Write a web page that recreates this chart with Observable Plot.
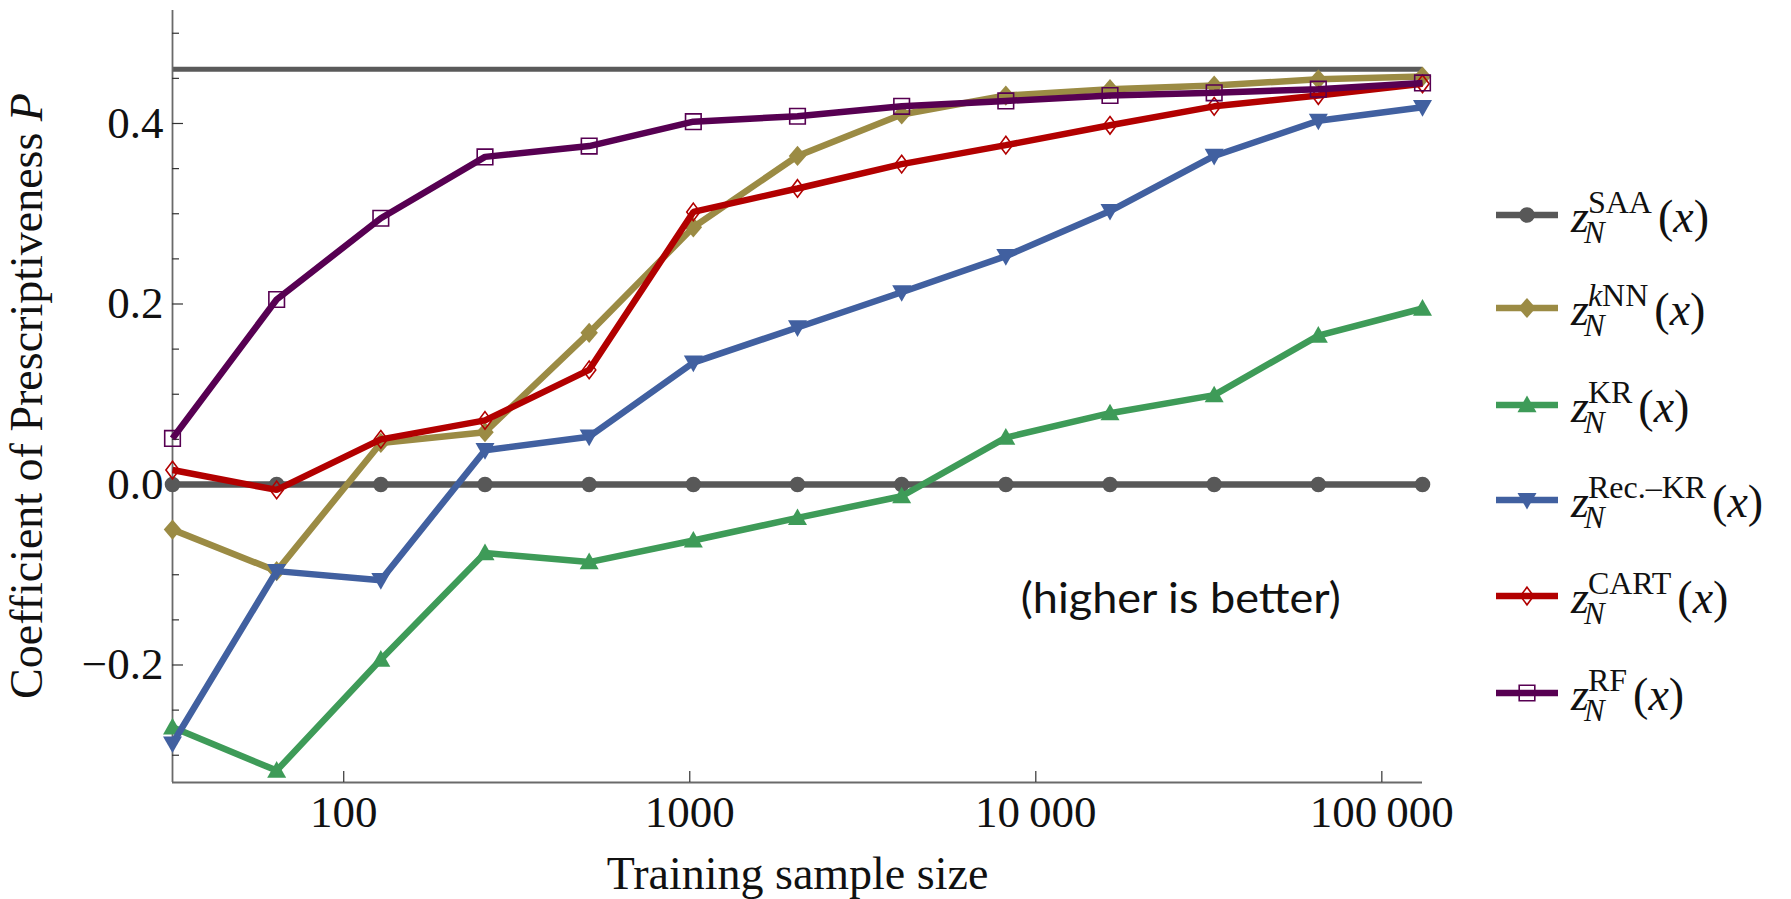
<!DOCTYPE html>
<html>
<head>
<meta charset="utf-8">
<script src="https://cdn.jsdelivr.net/npm/d3@7"></script>
<script src="https://cdn.jsdelivr.net/npm/@observablehq/plot@0.6"></script>
<style>
  html, body { margin: 0; padding: 0; background: #fff; }
  #wrap { width: 1791px; height: 899px; }
</style>
</head>
<body>
<div id="wrap"></div>
<script>
// ---------- data ----------
const sampleSizes = [32, 64, 128, 256, 512, 1024, 2048, 4096, 8192, 16384, 32768, 65536, 131072];
const saaValues   = [0, 0, 0, 0, 0, 0, 0, 0, 0, 0, 0, 0, 0];
const knnValues   = [-0.050, -0.096, 0.046, 0.058, 0.168, 0.285, 0.364, 0.410, 0.431, 0.438, 0.442, 0.449, 0.452];
const krValues    = [-0.269, -0.317, -0.194, -0.076, -0.086, -0.062, -0.037, -0.013, 0.052, 0.079, 0.099, 0.165, 0.195];
const recKrValues = [-0.287, -0.096, -0.106, 0.038, 0.053, 0.135, 0.174, 0.213, 0.253, 0.303, 0.364, 0.403, 0.418];
const cartValues  = [0.016, -0.006, 0.050, 0.071, 0.127, 0.302, 0.328, 0.355, 0.376, 0.398, 0.419, 0.431, 0.444];
const rfValues    = [0.051, 0.205, 0.295, 0.363, 0.375, 0.402, 0.408, 0.419, 0.425, 0.431, 0.434, 0.438, 0.445];
const referenceLevel = [0.46];

const seriesKeys   = ["SAA", "kNN", "KR", "RecKR", "CART", "RF"];
const seriesSup    = ["SAA", "kNN", "KR", "Rec.\u2013KR", "CART", "RF"];
const seriesColors = ["#585858", "#9b8b44", "#3e9b58", "#4160a0", "#b20000", "#570052"];
const seriesValues = [saaValues, knnValues, krValues, recKrValues, cartValues, rfValues];

const yMajorTicks = [-0.2, 0, 0.2, 0.4];
const yTickLabels = ["\u22120.2", "0.0", "0.2", "0.4"];
const yMinorTicks = [-0.3, -0.25, -0.15, -0.1, -0.05, 0.05, 0.1, 0.15, 0.25, 0.3, 0.35, 0.45, 0.5];
const xMajorTicks = [100, 1000, 10000, 100000];
const xTickLabels = ["100", "1000", "10\u2009000", "100\u2009000"];
const xLabel = ["Training sample size"];
const annotation = ["(higher is better)"];

// ---------- marker shapes ----------
const sym = fn => ({ draw(ctx, size) { const r = Math.sqrt(size / Math.PI); fn(ctx, r); } });
const circleSym = sym((c, r) => { c.moveTo(r, 0); c.arc(0, 0, r, 0, 2 * Math.PI); });
const diamondFill = sym((c, r) => { c.moveTo(0, -r * 1.1); c.lineTo(r * 0.95, 0); c.lineTo(0, r * 1.1); c.lineTo(-r * 0.95, 0); c.closePath(); });
const triUp = sym((c, r) => { c.moveTo(0, -r); c.lineTo(r * 1.0, r * 0.75); c.lineTo(-r * 1.0, r * 0.75); c.closePath(); });
const triDown = sym((c, r) => { c.moveTo(0, r); c.lineTo(r * 1.0, -r * 0.75); c.lineTo(-r * 1.0, -r * 0.75); c.closePath(); });
const diamondOpen = sym((c, r) => { c.moveTo(0, -r); c.lineTo(r * 0.75, 0); c.lineTo(0, r); c.lineTo(-r * 0.75, 0); c.closePath(); });
const squareOpen = sym((c, r) => { c.rect(-r, -r, 2 * r, 2 * r); });

const markerDefs = [
  { symbol: circleSym,   r: 7.8, fill: true },
  { symbol: diamondFill, r: 9.2, fill: true },
  { symbol: triUp,       r: 9.5, fill: true },
  { symbol: triDown,     r: 9.5, fill: true },
  { symbol: diamondOpen, r: 8.8, fill: false },
  { symbol: squareOpen,  r: 7.8, fill: false }
];

// long-format table built from the arrays
const table = seriesKeys.map((k, s) =>
  sampleSizes.map((n, i) => ({ series: k, n, p: seriesValues[s][i] })));

const yMin = -0.3302, yMax = 0.5252;
const xMin = 32, xMax = 131072;

const serif = "Liberation Serif";
const marks = [
  // reference level
  Plot.ruleY(referenceLevel, { y: d => d, x1: xMin, x2: xMax, stroke: "#5a5a5a", strokeWidth: 5 }),
  // axis lines
  Plot.ruleY([yMin], { y: d => d, x1: xMin, x2: xMax, stroke: "#6a6a6a", strokeWidth: 1.8 }),
  Plot.ruleX([xMin], { x: d => d, y1: yMin, y2: yMax, stroke: "#6a6a6a", strokeWidth: 1.8 }),
  // ticks (pointing inward)
  Plot.ruleY(yMajorTicks, { y: d => d, x1: xMin, x2: xMin, insetRight: -11, stroke: "#333", strokeWidth: 1.2 }),
  Plot.ruleY(yMinorTicks, { y: d => d, x1: xMin, x2: xMin, insetRight: -7, stroke: "#333", strokeWidth: 1.2 }),
  Plot.ruleX(xMajorTicks, { x: d => d, y1: yMin, y2: yMin, insetTop: -11, stroke: "#333", strokeWidth: 1.2 }),
  // tick labels
  Plot.text(yMajorTicks, { x: xMin, y: d => d, text: d => yTickLabels[yMajorTicks.indexOf(d)], textAnchor: "end", dx: -9, fontSize: 45, fontFamily: serif, fill: "#111" }),
  Plot.text(xMajorTicks, { x: d => d, y: yMin, text: d => xTickLabels[xMajorTicks.indexOf(d)], lineAnchor: "top", dy: 13, fontSize: 45, fontFamily: serif, fill: "#111" }),
  // axis title
  Plot.text(xLabel, { frameAnchor: "bottom", text: d => d, lineAnchor: "top", dy: 74, fontSize: 46, fontFamily: serif, fill: "#111" }),
  // annotation
  Plot.text(annotation, { x: 26240, y: -0.1274, text: d => d, fontSize: 42, fontFamily: "Lato", fill: "#111" })
];

table.forEach((rows, s) => {
  const m = markerDefs[s];
  marks.push(Plot.line(rows, { x: "n", y: "p", stroke: seriesColors[s], strokeWidth: 6.5, strokeLinejoin: "miter", strokeLinecap: "butt" }));
  marks.push(Plot.dot(rows, {
    x: "n", y: "p", symbol: m.symbol, r: m.r,
    fill: m.fill ? seriesColors[s] : "none",
    stroke: m.fill ? "none" : seriesColors[s],
    strokeWidth: m.fill ? 0 : 1.6
  }));
});

const plot = Plot.plot({
  width: 1791,
  height: 899,
  marginLeft: 172,
  marginRight: 369,
  marginTop: 10,
  marginBottom: 117,
  style: { background: "#fff", fontFamily: serif },
  x: { type: "log", domain: [xMin, xMax], axis: null },
  y: { domain: [yMin, yMax], axis: null },
  marks
});
document.getElementById("wrap").appendChild(plot);

const svg = d3.select(plot);

// annotation width like the reference
svg.selectAll("text").filter(function () { return this.textContent === annotation[0]; })
  .attr("textLength", 320).attr("lengthAdjust", "spacingAndGlyphs");

// y-axis title with italic P
const yt = svg.append("text")
  .attr("transform", "translate(42,396) rotate(-90)")
  .attr("text-anchor", "middle")
  .attr("font-family", serif)
  .attr("font-size", 46)
  .attr("fill", "#111");
yt.append("tspan").text("Coefficient of Prescriptiveness ");
yt.append("tspan").attr("font-style", "italic").text("P");

// ---------- legend ----------
const rowY = [215, 308, 405, 500, 596, 693];
const lineX1 = 1496, lineX2 = 1558, markX = 1527, textX = 1571;
const lg = svg.append("g")
  .attr("font-family", serif)
  .attr("text-anchor", "start")
  .attr("fill", "#111");
seriesKeys.forEach((k, s) => {
  const y = rowY[s];
  const m = markerDefs[s];
  lg.append("line").attr("x1", lineX1).attr("x2", lineX2).attr("y1", y).attr("y2", y)
    .attr("stroke", seriesColors[s]).attr("stroke-width", 6.5);
  lg.append("path")
    .attr("d", d3.symbol(m.symbol, Math.PI * m.r * m.r)())
    .attr("transform", `translate(${markX},${y})`)
    .attr("fill", m.fill ? seriesColors[s] : "none")
    .attr("stroke", m.fill ? "none" : seriesColors[s])
    .attr("stroke-width", m.fill ? 0 : 1.6);
  const z = lg.append("text").attr("x", textX).attr("y", y + 17).attr("font-size", 46).attr("font-style", "italic").text("z");
  const wz = z.node().getComputedTextLength();
  const sup = lg.append("text").attr("x", textX + wz - 1).attr("y", y - 2).attr("font-size", 32);
  if (k === "kNN") {
    sup.append("tspan").attr("font-style", "italic").text("k");
    sup.append("tspan").text("NN");
  } else {
    sup.text(seriesSup[s]);
  }
  const sub = lg.append("text").attr("x", textX + wz - 5).attr("y", y + 28).attr("font-size", 31).attr("font-style", "italic").text("N");
  const ws = sup.node().getComputedTextLength();
  const wn = sub.node().getComputedTextLength();
  const nx = textX + wz - 1 + Math.max(ws, wn - 4) + 6;
  const tail = lg.append("text").attr("x", nx).attr("y", y + 17).attr("font-size", 46);
  tail.append("tspan").text("(");
  tail.append("tspan").attr("font-style", "italic").text("x");
  tail.append("tspan").text(")");
});
</script>
</body>
</html>
